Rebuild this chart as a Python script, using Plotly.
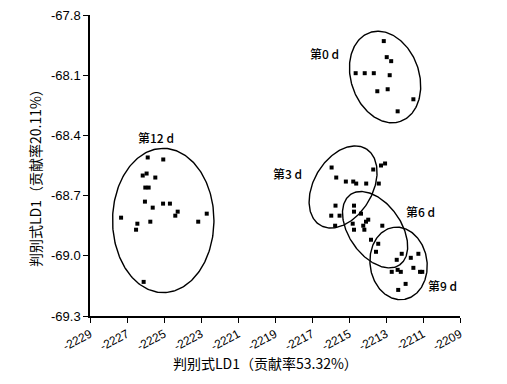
import numpy as np
import plotly.graph_objects as go

# ---------------- data ----------------
day0_x = [-2213.12, -2212.96, -2212.72, -2214.64, -2214.15, -2213.66, -2212.80, -2213.47, -2212.91, -2211.52, -2212.37]
day0_y = [-67.93, -68.01, -68.03, -68.09, -68.09, -68.09, -68.10, -68.18, -68.17, -68.22, -68.28]

day3_x = [-2215.94, -2213.69, -2213.27, -2213.05, -2215.69, -2215.17, -2214.77, -2214.61, -2214.07, -2213.39, -2215.73, -2215.96, -2215.51, -2215.75]
day3_y = [-68.56, -68.57, -68.55, -68.54, -68.61, -68.63, -68.63, -68.64, -68.64, -68.64, -68.75, -68.80, -68.80, -68.85]

day6_x = [-2214.73, -2214.73, -2214.35, -2213.96, -2214.08, -2214.80, -2214.23, -2214.17, -2214.73, -2213.20, -2213.81, -2213.42, -2213.54]
day6_y = [-68.75, -68.78, -68.79, -68.82, -68.83, -68.84, -68.85, -68.87, -68.87, -68.85, -68.92, -68.94, -68.98]

day9_x = [-2212.15, -2211.66, -2211.25, -2212.42, -2212.69, -2212.37, -2212.20, -2211.52, -2211.16, -2211.04, -2211.94, -2212.34]
day9_y = [-68.99, -69.01, -68.99, -69.02, -69.08, -69.07, -69.08, -69.06, -69.08, -69.08, -69.14, -69.17]

day12_x = [-2225.88, -2225.04, -2226.15, -2225.94, -2225.47, -2226.01, -2225.83, -2226.03, -2225.61, -2225.05,
           -2224.68, -2224.26, -2224.39, -2222.69, -2223.15, -2227.32, -2226.44, -2226.51, -2225.74, -2226.10]
day12_y = [-68.51, -68.52, -68.60, -68.59, -68.61, -68.66, -68.66, -68.73, -68.76, -68.74,
           -68.74, -68.78, -68.80, -68.79, -68.83, -68.81, -68.84, -68.87, -68.83, -69.13]

group_labels = ["第0 d", "第3 d", "第6 d", "第9 d", "第12 d"]

# confidence ellipses (centre in data units, semi-axes in x-axis units, angle in degrees on screen)
ell_cx = [-2213.05, -2215.32, -2213.59, -2212.32, -2225.04]
ell_cy = [-68.109, -68.657, -68.870, -69.038, -68.824]
ell_a = [2.54, 2.41, 2.32, 1.97, 3.90]
ell_b = [1.84, 1.58, 1.41, 1.54, 2.74]
ell_ang = [-71, 59, -55, 98, 90]

# group label positions (data units)
label_x = [-2216.3, -2218.35, -2211.16, -2209.97, -2225.43]
label_y = [-67.99, -68.59, -68.777, -69.15, -68.41]

x_tickvals = [-2229, -2227, -2225, -2223, -2221, -2219, -2217, -2215, -2213, -2211, -2209]
x_ticktext = ["-2229", "-2227", "-2225", "-2223", "-2221", "-2219", "-2217", "-2215", "-2213", "-2211", "-2209"]
y_tickvals = [-67.8, -68.1, -68.4, -68.7, -69.0, -69.3]
y_ticktext = ["-67.8", "-68.1", "-68.4", "-68.7", "-69.0", "-69.3"]

x_title = "判别式LD1（贡献率53.32%）"
y_title = "判别式LD1（贡献率20.11%）"

# ---------------- layout ----------------
PAGE_OFF = 8                      # default body margin of the html page
W, H = 507 - PAGE_OFF, 384 - PAGE_OFF
ML, MT = 90 - PAGE_OFF, 15 - PAGE_OFF
plot_w, plot_h = 370, 301
MR = W - ML - plot_w
MB = H - MT - plot_h
x_range = [-2229, -2209]
y_range = [-69.3, -67.8]
px_per_x = plot_w / (x_range[1] - x_range[0])
px_per_y = plot_h / (y_range[1] - y_range[0])
y_per_x = px_per_x / px_per_y

FONT = "Liberation Sans, Arial, sans-serif"
CJK = "Noto Sans CJK SC, sans-serif"

fig = go.Figure()

groups = [(day0_x, day0_y), (day3_x, day3_y), (day6_x, day6_y), (day9_x, day9_y), (day12_x, day12_y)]
t = np.linspace(0, 2 * np.pi, 241)
for i, (gx, gy) in enumerate(groups):
    fig.add_trace(go.Scatter(x=gx, y=gy, mode="markers",
                             marker=dict(symbol="square", size=4, color="black"),
                             showlegend=False, cliponaxis=False))
    th = np.deg2rad(ell_ang[i])
    u = ell_a[i] * np.cos(t)
    v = ell_b[i] * np.sin(t)
    dx = u * np.cos(th) - v * np.sin(th)
    dy = u * np.sin(th) + v * np.cos(th)
    fig.add_trace(go.Scatter(x=ell_cx[i] + dx, y=ell_cy[i] + dy * y_per_x, mode="lines",
                             line=dict(color="black", width=1.4), showlegend=False,
                             hoverinfo="skip", cliponaxis=False))
    fig.add_annotation(x=label_x[i], y=label_y[i], text=group_labels[i], showarrow=False,
                       font=dict(family=CJK, size=12, color="black", weight=500))

# axis titles as paper annotations (targets given in page pixels)
def paper_x(px):
    return (px - PAGE_OFF - ML) / plot_w

def paper_y(py):
    return (MT + plot_h - (py - PAGE_OFF)) / plot_h

fig.add_annotation(xref="paper", yref="paper", x=paper_x(265), y=paper_y(363),
                   text=x_title, showarrow=False, xanchor="center", yanchor="middle",
                   font=dict(family=CJK, size=14, color="black"))
fig.add_annotation(xref="paper", yref="paper", x=paper_x(35), y=paper_y(175),
                   text=y_title, showarrow=False, xanchor="center", yanchor="middle", textangle=-90,
                   font=dict(family=CJK, size=14, color="black"))

fig.update_layout(
    width=W, height=H,
    margin=dict(l=ML, r=MR, t=MT, b=MB),
    paper_bgcolor="white", plot_bgcolor="white",
    font=dict(family=FONT, size=12, color="black"),
    xaxis=dict(range=x_range, tickvals=x_tickvals, ticktext=x_ticktext, tickangle=-28,
               automargin=False, ticklabeloverflow="allow",
               showgrid=False, zeroline=False, showline=True, linecolor="black", linewidth=1.5,
               ticks="outside", ticklen=5, tickwidth=1.2, tickcolor="black",
               tickfont=dict(family=FONT, size=12)),
    yaxis=dict(range=y_range, tickvals=y_tickvals, ticktext=y_ticktext,
               automargin=False, ticklabeloverflow="allow",
               showgrid=False, zeroline=False, showline=True, linecolor="black", linewidth=1.5,
               ticks="outside", ticklen=5, tickwidth=1.2, tickcolor="black",
               tickfont=dict(family=FONT, size=13)),
)

fig.write_html("out.html")
